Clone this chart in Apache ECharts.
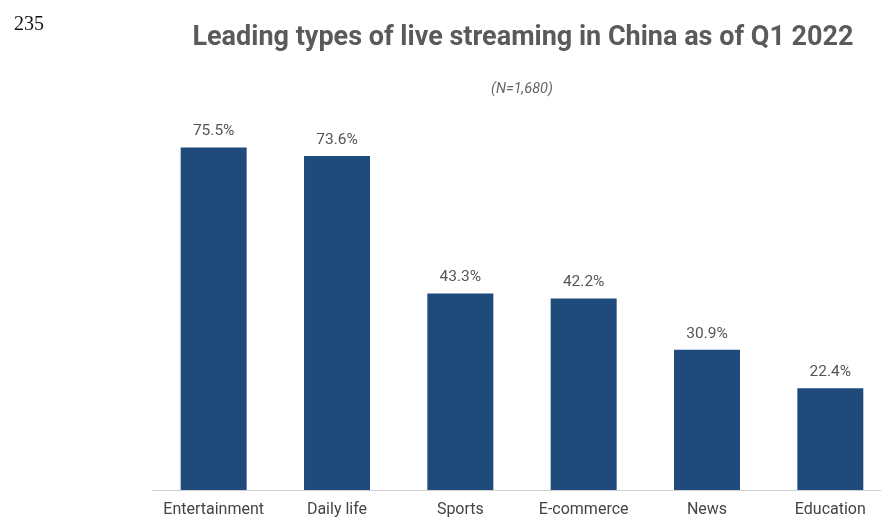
<!DOCTYPE html>
<html>
<head>
<meta charset="utf-8">
<script src="https://cdn.jsdelivr.net/npm/echarts@6/dist/echarts.min.js"></script>
<style>
  html, body { margin: 0; padding: 0; background: #fff; }
  #chart { width: 881px; height: 518px; }
</style>
</head>
<body>
<div id="chart"></div>
<script>
// Streaming types and share of respondents (%)
const categories = ['Entertainment', 'Daily life', 'Sports', 'E-commerce', 'News', 'Education'];
const shares = [75.5, 73.6, 43.3, 42.2, 30.9, 22.4];

const chart = echarts.init(document.getElementById('chart'));
chart.setOption({
  animation: false,
  backgroundColor: '#ffffff',
  title: [
    {
      text: '235',
      left: 9,
      top: 10,
      textStyle: { fontFamily: 'Liberation Serif', fontWeight: 'normal', fontSize: 20, color: '#111' }
    },
    {
      text: 'Leading types of live streaming in China as of Q1 2022',
      left: 518,
      textAlign: 'center',
      top: 20,
      textStyle: { fontFamily: 'Roboto', fontWeight: 'bold', fontSize: 27, color: '#5a5a5a' }
    },
    {
      text: '(N=1,680)',
      left: 517,
      textAlign: 'center',
      top: 77,
      textStyle: { fontFamily: 'Roboto', fontStyle: 'italic', fontWeight: 'normal', fontSize: 14.5, color: '#666' }
    }
  ],
  // the plot area runs a little past the right edge of the canvas
  grid: { left: 152, width: 740, top: 127, bottom: 28, outerBoundsMode: 'none' },
  xAxis: {
    type: 'category',
    data: categories,
    axisLine: { lineStyle: { color: '#d0d0d0', width: 1 } },
    axisTick: { show: false },
    axisLabel: { interval: 0, fontFamily: 'Roboto', fontSize: 16, color: '#444', margin: 12 }
  },
  yAxis: {
    type: 'value',
    min: 0,
    max: 80,
    show: false,
    splitLine: { show: false }
  },
  series: [{
    type: 'bar',
    data: shares,
    barWidth: '53.5%',
    itemStyle: { color: '#1f4a7c' },
    label: {
      show: true,
      position: 'top',
      distance: 8,
      formatter: p => p.value.toFixed(1) + '%',
      fontFamily: 'Roboto',
      fontSize: 15.5,
      color: '#555'
    }
  }]
});
</script>
</body>
</html>
